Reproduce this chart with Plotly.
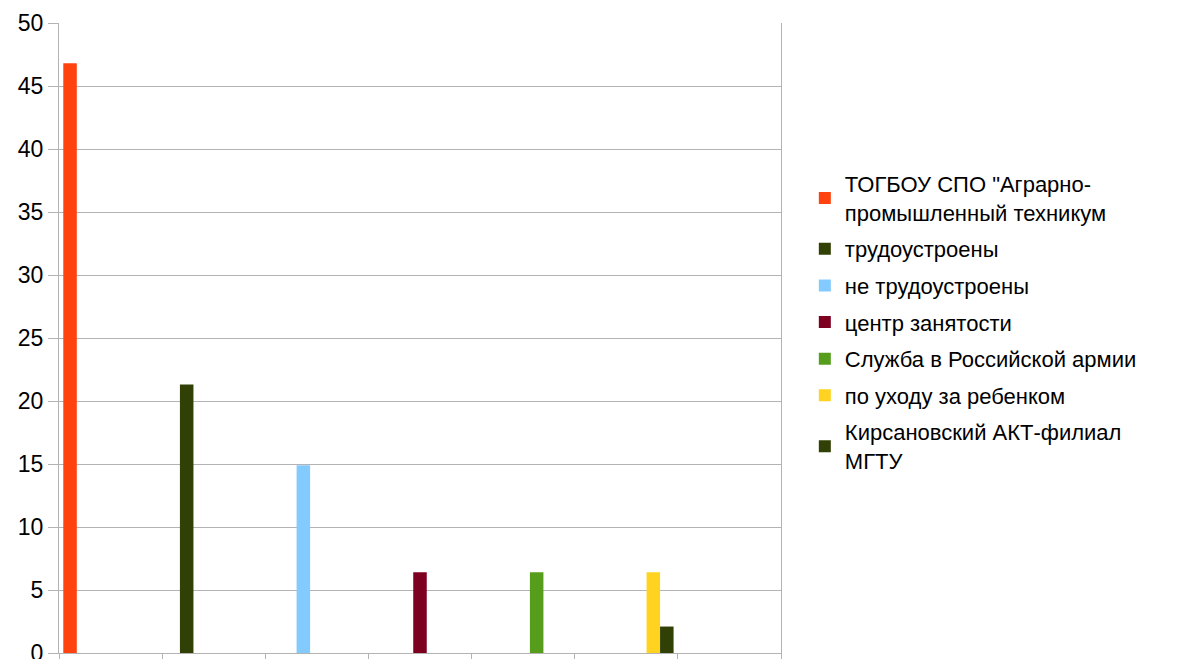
import plotly.graph_objects as go

categories = ["1", "2", "3", "4", "5", "6", "7"]
series_names = [
    "ТОГБОУ СПО \"Аграрно-<br>промышленный техникум",
    "трудоустроены",
    "не трудоустроены",
    "центр занятости",
    "Служба в Российской армии",
    "по уходу за ребенком",
    "Кирсановский АКТ-филиал<br>МГТУ",
]
series_values = [
    [46.8, None, None, None, None, None, None],
    [None, 21.3, None, None, None, None, None],
    [None, None, 14.9, None, None, None, None],
    [None, None, None, 6.4, None, None, None],
    [None, None, None, None, 6.4, None, None],
    [None, None, None, None, None, 6.4, None],
    [None, None, None, None, None, 2.1, None],
]
colors = ["#ff420e", "#314004", "#83caff", "#7e0021", "#579d1c", "#ffd320", "#314004"]
y_ticks = [0, 5, 10, 15, 20, 25, 30, 35, 40, 45, 50]

fig = go.Figure()
for i, (name, vals, c) in enumerate(zip(series_names, series_values, colors)):
    fig.add_trace(go.Bar(x=categories, y=vals, name=name, legendgroup=f"g{i}",
                         marker=dict(color=c, line=dict(width=0))))

font = "Liberation Sans, Arial, sans-serif"
fig.update_layout(
    width=1192, height=659,
    margin=dict(l=59, r=411, t=23, b=6, autoexpand=False),
    paper_bgcolor="white", plot_bgcolor="white",
    barmode="group", bargap=0.083, bargroupgap=0,
    font=dict(family=font, size=22, color="#000000"),
    showlegend=True,
    legend=dict(x=1.033, y=0.778, xanchor="left", yanchor="top",
                font=dict(family=font, size=22, color="#000000"),
                tracegroupgap=5, itemsizing="constant", bgcolor="rgba(0,0,0,0)"),
    xaxis=dict(type="category", showticklabels=False, tickson="boundaries",
               ticks="outside", ticklen=8, tickcolor="#b3b3b3", showgrid=False,
               showline=True, linecolor="#b3b3b3", linewidth=1, zeroline=False,
               automargin=False),
    yaxis=dict(range=[0, 50], tickvals=y_ticks, ticks="outside", ticklen=10,
               tickcolor="#b3b3b3", showgrid=True, gridcolor="#b3b3b3", gridwidth=1,
               showline=True, linecolor="#b3b3b3", mirror=True, zeroline=False,
               automargin=False, ticklabeloverflow="allow",
               tickfont=dict(family=font, size=23, color="#000000")),
)
fig.write_html("out.html", config={"displayModeBar": False},
               post_script="document.body.style.margin='0';document.body.style.overflow='hidden';")
